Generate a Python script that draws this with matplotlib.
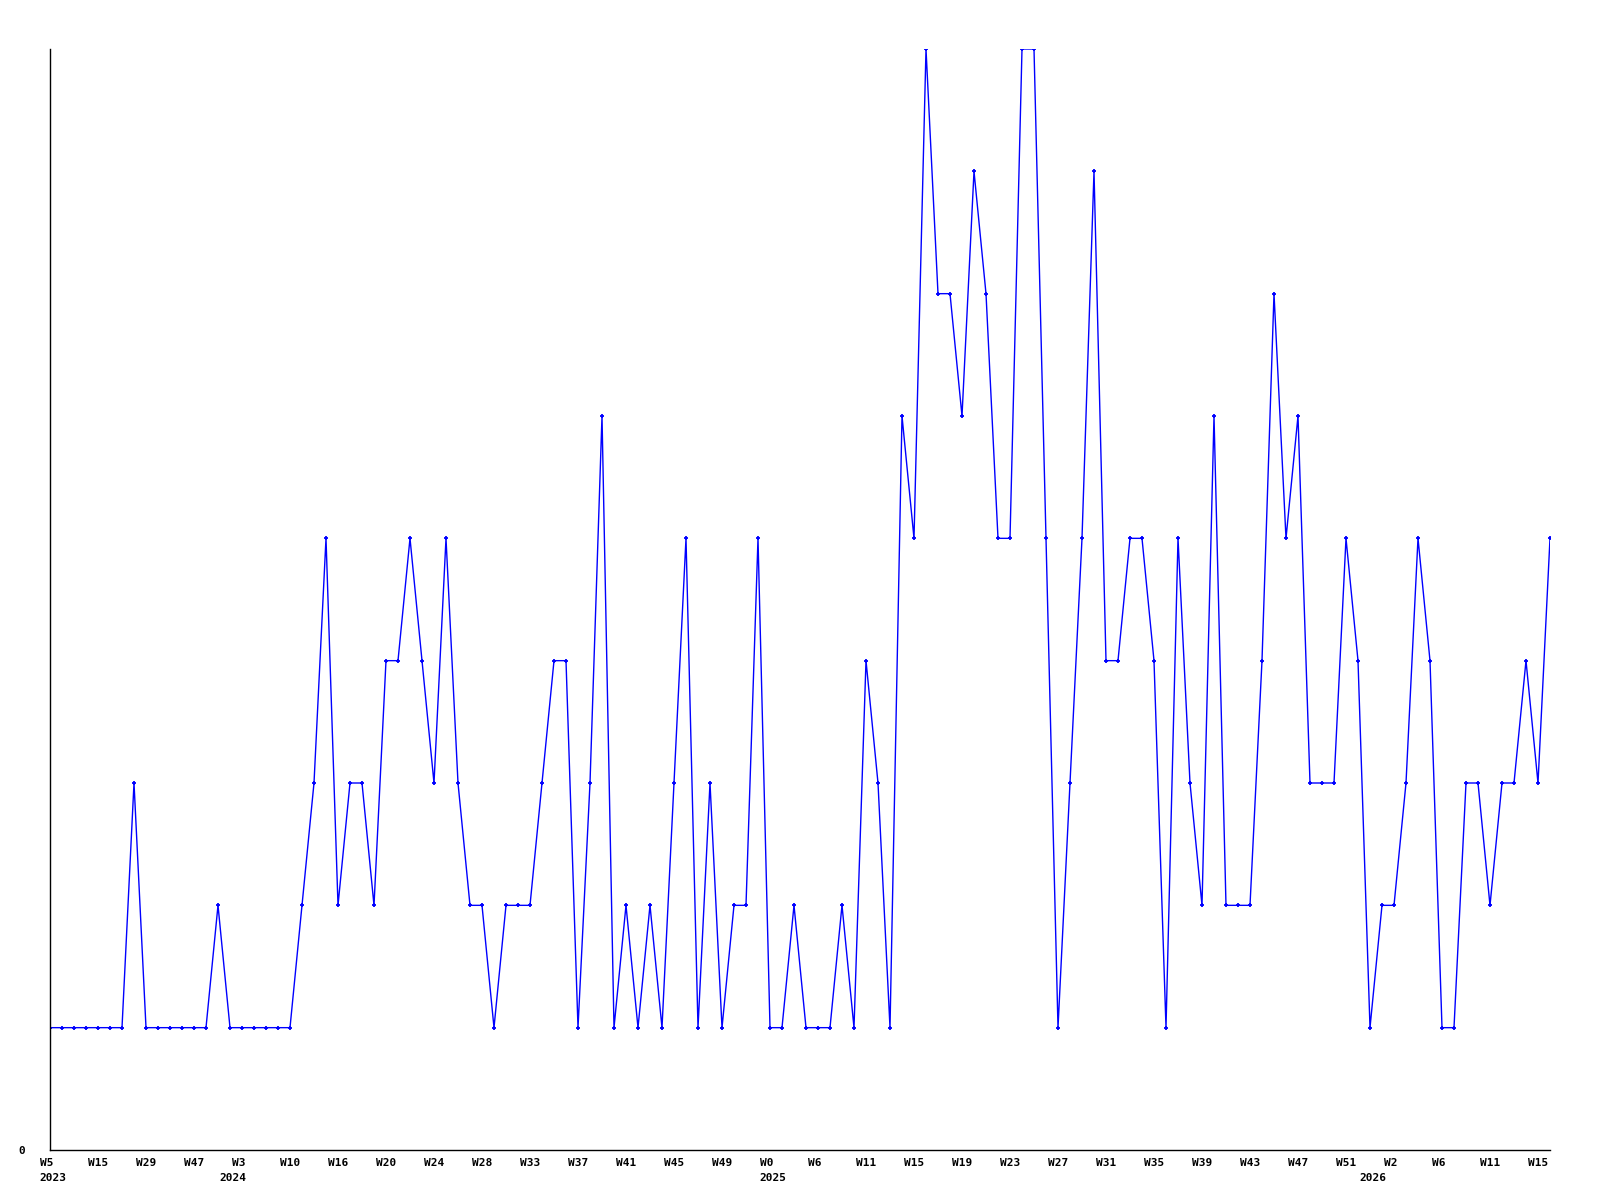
import matplotlib
matplotlib.use("Agg")
import matplotlib.pyplot as plt

# valores semanais (um ponto por semana)
valores = [1, 1, 1, 1, 1, 1, 1, 3, 1, 1, 1, 1, 1, 1, 2, 1, 1, 1, 1, 1, 1, 2,
           3, 5, 2, 3, 3, 2, 4, 4, 5, 4, 3, 5, 3, 2, 2, 1, 2, 2, 2, 3, 4,
           4, 1, 3, 6, 1, 2, 1, 2, 1, 3, 5, 1, 3, 1, 2, 2, 5, 1, 1, 2, 1,
           1, 1, 2, 1, 4, 3, 1, 6, 5, 9, 7, 7, 6, 8, 7, 5, 5, 9, 9, 5, 1,
           3, 5, 8, 4, 4, 5, 5, 4, 1, 5, 3, 2, 6, 2, 2, 2, 4, 7, 5, 6, 3,
           3, 3, 5, 4, 1, 2, 2, 3, 5, 4, 1, 1, 3, 3, 2, 3, 3, 4, 3, 5]

# rotulos do eixo x (um a cada 4 pontos)
semanas = ["W5", "W15", "W29", "W47", "W3", "W10", "W16", "W20", "W24", "W28",
           "W33", "W37", "W41", "W45", "W49", "W0", "W6", "W11", "W15", "W19",
           "W23", "W27", "W31", "W35", "W39", "W43", "W47", "W51", "W2", "W6",
           "W11", "W15"]
anos = ["2023", "2024", "2025", "2026"]
anos_idx = [0, 15, 60, 110]

fonte = {"family": "DejaVu Sans Mono", "weight": "bold", "size": 8}

fig = plt.figure(figsize=(16, 12), dpi=100)
ax = fig.add_axes([50 / 1600, 50 / 1200, 1500 / 1600, 1101 / 1200])

x = list(range(len(valores)))
ax.plot(x, valores, color="#0000ff", linewidth=1.0, marker="+",
        markersize=3, markeredgewidth=1.3)

ax.set_xlim(0, len(valores) - 1)
ax.set_ylim(0, 9)

for lado in ["top", "right"]:
    ax.spines[lado].set_visible(False)
ax.spines["left"].set_linewidth(1.0)
ax.spines["bottom"].set_linewidth(1.0)

ax.set_xticks([])
ax.set_yticks([0])
ax.set_yticklabels(["0"], fontdict=fonte)
ax.tick_params(axis="y", length=0, pad=18)

# semanas: alinhadas a esquerda, um pouco antes do ponto
for i, s in zip(range(0, len(valores), 4), semanas):
    ax.annotate(s, xy=(i, 0), xycoords=("data", "axes fraction"),
                xytext=(-7.5, -9), textcoords="offset points",
                ha="left", va="center", **fonte)

for ano, i in zip(anos, anos_idx):
    ax.annotate(ano, xy=(i, 0), xycoords=("data", "axes fraction"),
                xytext=(-7.5, -20), textcoords="offset points",
                ha="left", va="center", **fonte)

plt.savefig("out.png", dpi=100)
